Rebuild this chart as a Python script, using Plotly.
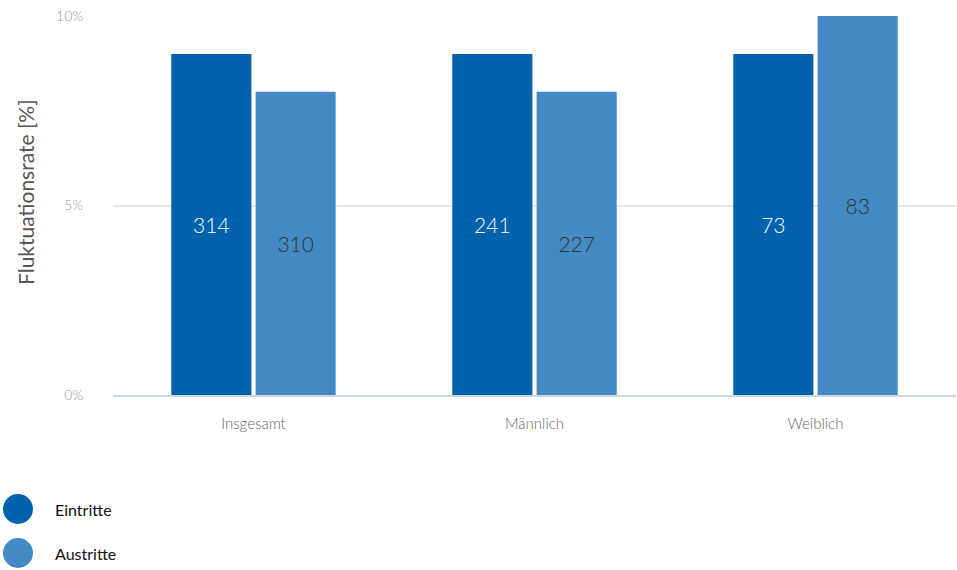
import plotly.graph_objects as go

categories = ["Insgesamt", "Männlich", "Weiblich"]
eintritte_rate = [9, 9, 9]
austritte_rate = [8, 8, 10]
eintritte_count = [314, 241, 73]
austritte_count = [310, 227, 83]
y_ticks = [0, 5, 10]
y_ticklabels = ["0%", "5%", "10%"]

c_ein = "#0062ad"
c_aus = "#4389c4"
font_family = "Lato, 'Noto Sans', sans-serif"

fig = go.Figure()
fig.add_trace(go.Bar(
    x=categories, y=eintritte_rate, name="Eintritte",
    marker=dict(color=c_ein, line=dict(width=0)),
    text=eintritte_count, textposition="inside", insidetextanchor="middle",
    textfont=dict(color="white", size=21, family=font_family, weight=300),
    showlegend=False,
))
fig.add_trace(go.Bar(
    x=categories, y=austritte_rate, name="Austritte",
    marker=dict(color=c_aus, line=dict(width=0)),
    text=austritte_count, textposition="inside", insidetextanchor="middle",
    textfont=dict(color="#333333", size=21, family=font_family, weight=300),
    showlegend=False,
))

fig.update_layout(
    width=957, height=570,
    margin=dict(l=113, r=1, t=16, b=175),
    plot_bgcolor="white", paper_bgcolor="white",
    barmode="group", bargap=0.4, bargroupgap=0.05,
    font=dict(family=font_family),
    showlegend=False,
    uniformtext=dict(mode=False),
)
fig.update_xaxes(
    tickfont=dict(size=15, color="#666666", weight=300),
    showgrid=False, showline=True, linecolor="#ccd6eb", linewidth=2,
    ticks="outside", ticklen=14, tickcolor="rgba(0,0,0,0)",
)
fig.update_yaxes(
    range=[0, 10], tickvals=y_ticks, ticktext=y_ticklabels,
    tickfont=dict(size=14, color="#999999", weight=300),
    showgrid=True, gridcolor="#e6e6e6", gridwidth=2,
    zeroline=False, showline=False,
    ticks="outside", ticklen=26, tickcolor="rgba(0,0,0,0)",
)

# y-axis title as rotated annotation
fig.add_annotation(text="Fluktuationsrate [%]", xref="paper", yref="paper",
                   x=(25 - 113) / 843, y=(395 - 192) / 379,
                   xanchor="center", yanchor="middle", textangle=-90, showarrow=False,
                   font=dict(size=21, color="#555555", family=font_family))

# custom legend with circular markers
legend_items = [("Eintritte", c_ein), ("Austritte", c_aus)]
for i, (label, col) in enumerate(legend_items):
    cy = 509 + i * 44
    fig.add_shape(type="circle", xref="paper", yref="paper",
                  x0=(3 - 113) / 843, x1=(33 - 113) / 843,
                  y0=(570 - 175 - (cy + 15)) / 379, y1=(570 - 175 - (cy - 15)) / 379,
                  fillcolor=col, line=dict(width=0))
    fig.add_annotation(text=label, xref="paper", yref="paper",
                       x=(53 - 113) / 843, y=(570 - 175 - cy) / 379,
                       xanchor="left", yanchor="middle", showarrow=False,
                       font=dict(size=16, color="#111111", family=font_family))

fig.write_html("out.html")
